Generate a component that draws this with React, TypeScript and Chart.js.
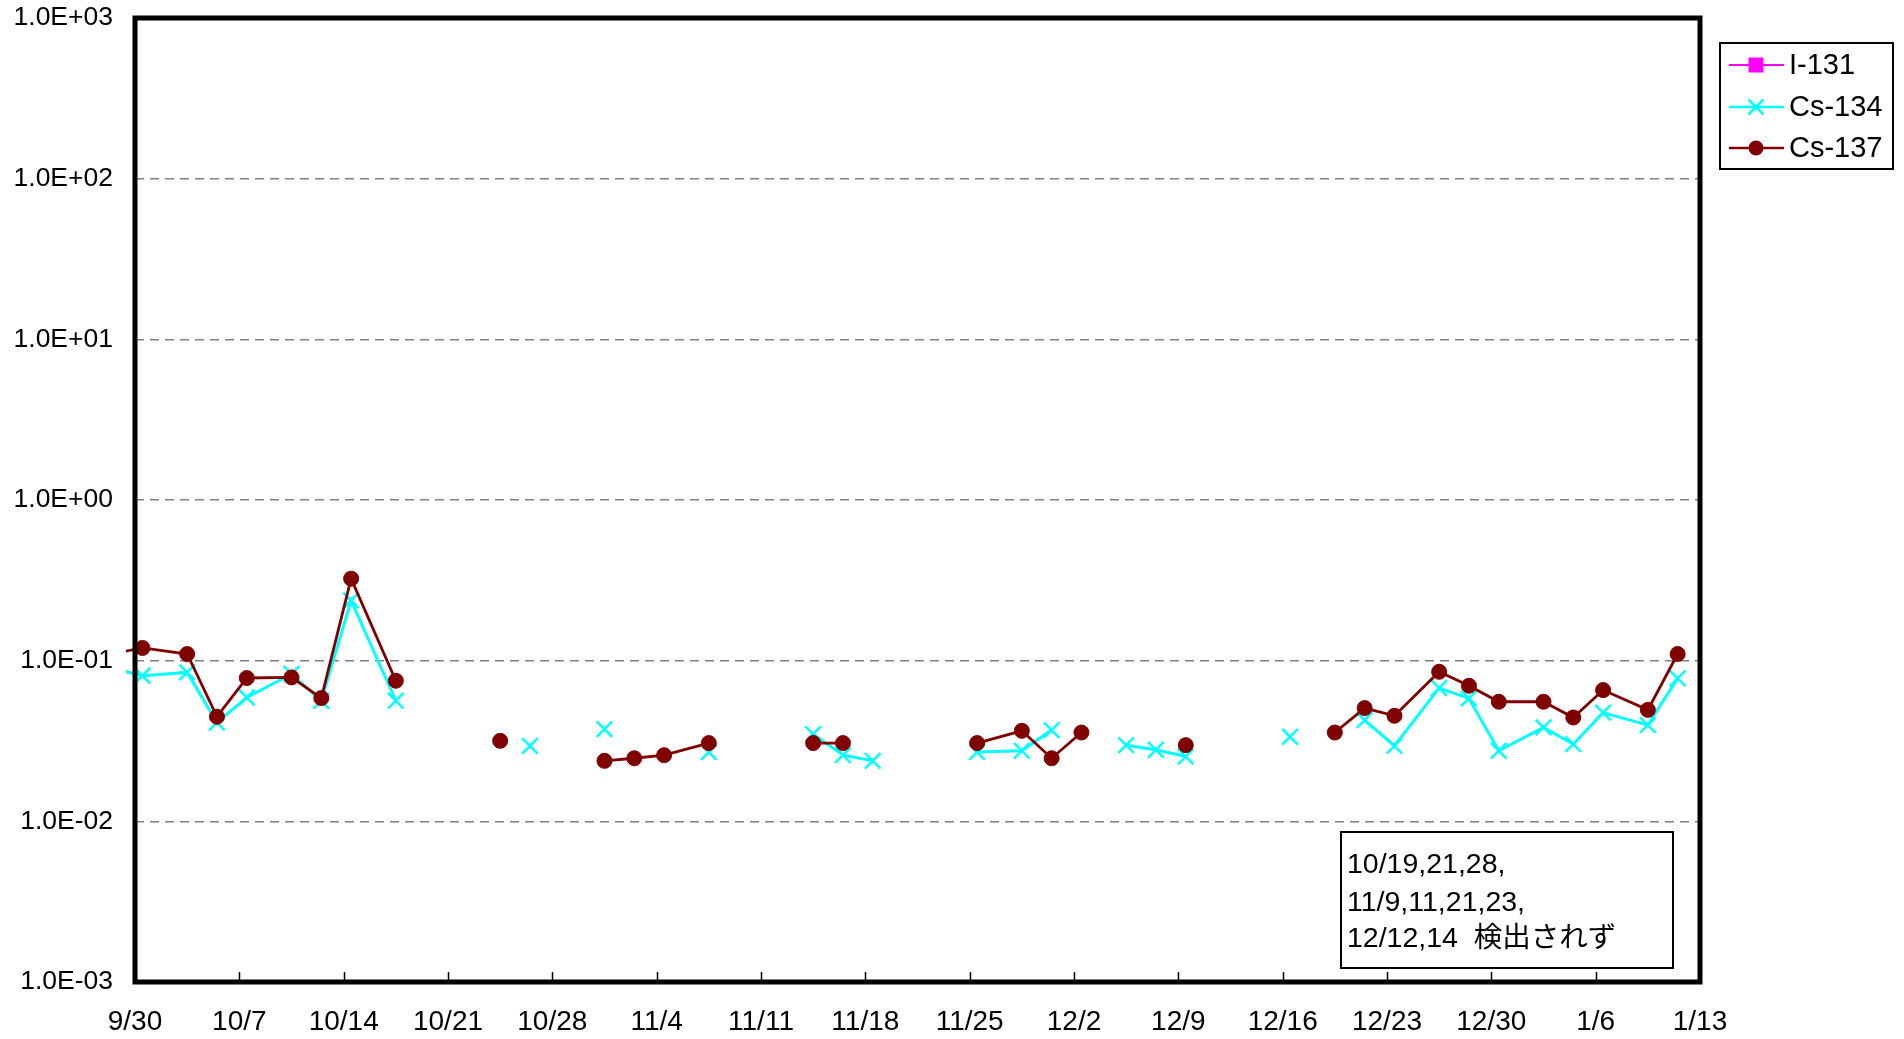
import React, { useEffect, useRef } from 'react';
import { Chart, registerables } from 'chart.js';

Chart.register(...registerables);

// Sampling dates (9/27 is the point just before the axis start; its line enters from the left edge)
const sampleDates = [
  '9/27', '9/30', '10/3', '10/5', '10/7', '10/10', '10/12', '10/14', '10/17', '10/19', '10/21',
  '10/24', '10/26', '10/28', '10/31', '11/2', '11/4', '11/7', '11/9', '11/11', '11/14', '11/16',
  '11/18', '11/21', '11/23', '11/25', '11/28', '11/30', '12/2', '12/5', '12/7', '12/9', '12/12',
  '12/14', '12/16', '12/19', '12/21', '12/23', '12/26', '12/28', '12/30', '1/2', '1/4', '1/6',
  '1/9', '1/11',
];

const cs137Values: (number | null)[] = [
  0.106, 0.120, 0.110, 0.0448, 0.078, 0.0787, 0.0585, 0.324, 0.075, null, null,
  0.0317, null, null, 0.0238, 0.0247, 0.0258, 0.0307, null, null, 0.0307, 0.0307,
  null, null, null, 0.0307, 0.0366, 0.0247, 0.0357, null, null, 0.0298, null,
  null, null, 0.0357, 0.0507, 0.0454, 0.0853, 0.0698, 0.0555, 0.0555, 0.0443, 0.0656,
  0.0494, 0.110,
];

const cs134Values: (number | null)[] = [
  0.0946, 0.0806, 0.0845, 0.0412, 0.059, 0.0826, 0.0563, 0.237, 0.0563, null, null,
  null, 0.0295, null, 0.0375, null, null, 0.0270, null, null, 0.0349, 0.0258,
  0.0238, null, null, 0.0270, 0.0275, 0.0370, null, 0.0298, 0.0279, 0.0253, null,
  null, 0.0336, null, 0.0427, 0.0295, 0.0676, 0.0582, 0.0275, 0.0384, 0.0302, 0.0475,
  0.0397, 0.0776,
];

// I-131: not detected on any date
const i131Values: (number | null)[] = [];

const xTickLabels = [
  '9/30', '10/7', '10/14', '10/21', '10/28', '11/4', '11/11', '11/18', '11/25',
  '12/2', '12/9', '12/16', '12/23', '12/30', '1/6', '1/13',
];
const yTickValues = [1e-3, 1e-2, 1e-1, 1, 10, 100, 1000];
const yTickLabels = ['1.0E-03', '1.0E-02', '1.0E-01', '1.0E+00', '1.0E+01', '1.0E+02', '1.0E+03'];

const seriesNames = ['I-131', 'Cs-134', 'Cs-137'];
const seriesColors = ['#FF00FF', '#00FFFF', '#800000'];

const noteLines = ['10/19,21,28,', '11/9,11,21,23,', '12/12,14  検出されず'];

const FONT = '"Liberation Sans", Arial, "Noto Sans CJK JP", sans-serif';

function dayOffset(s: string): number {
  const [m, d] = s.split('/').map(Number);
  const year = m >= 9 ? 2013 : 2014;
  return (Date.UTC(year, m - 1, d) - Date.UTC(2013, 8, 30)) / 86400000;
}

function toPoints(values: (number | null)[]) {
  return values.map((v, i) => ({ x: dayOffset(sampleDates[i]) + 0.5, y: v }));
}

const decorPlugin = {
  id: 'decor',
  beforeDraw(chart: any) {
    const ctx = chart.ctx;
    ctx.save();
    ctx.fillStyle = '#ffffff';
    ctx.fillRect(0, 0, chart.width, chart.height);
    ctx.restore();
  },
  afterDatasetsDraw(chart: any) {
    const ctx = chart.ctx;
    const a = chart.chartArea;
    const xs = chart.scales.x;
    ctx.save();
    // inward tick marks on the bottom axis
    ctx.strokeStyle = '#000';
    ctx.lineWidth = 1.5;
    xs.ticks.forEach((t: any) => {
      const px = Math.round(xs.getPixelForValue(t.value)) + 0.5;
      ctx.beginPath();
      ctx.moveTo(px, a.bottom);
      ctx.lineTo(px, a.bottom - 10);
      ctx.stroke();
    });
    // plot frame
    ctx.lineWidth = 5;
    ctx.strokeStyle = '#000';
    ctx.strokeRect(a.left, a.top, a.right - a.left, a.bottom - a.top);
    ctx.restore();
  },
  afterDraw(chart: any) {
    const ctx = chart.ctx;
    ctx.save();
    // legend
    const lx = 1720, ly = 43, lw = 173, lh = 126;
    ctx.fillStyle = '#fff';
    ctx.fillRect(lx, ly, lw, lh);
    ctx.strokeStyle = '#000';
    ctx.lineWidth = 2;
    ctx.strokeRect(lx, ly, lw, lh);
    const rows = [65, 107, 148];
    ctx.font = `29px ${FONT}`;
    ctx.textBaseline = 'middle';
    ctx.textAlign = 'left';
    seriesNames.forEach((name, i) => {
      const cy = rows[i];
      const col = seriesColors[i];
      ctx.strokeStyle = col;
      ctx.lineWidth = i === 0 ? 2 : 2.5;
      ctx.beginPath();
      ctx.moveTo(1729, cy);
      ctx.lineTo(1784, cy);
      ctx.stroke();
      if (i === 0) {
        ctx.fillStyle = col;
        ctx.fillRect(1756 - 7.5, cy - 7.5, 15, 15);
      } else if (i === 1) {
        ctx.lineWidth = 2.5;
        ctx.beginPath();
        ctx.moveTo(1756 - 7.5, cy - 7.5);
        ctx.lineTo(1756 + 7.5, cy + 7.5);
        ctx.moveTo(1756 - 7.5, cy + 7.5);
        ctx.lineTo(1756 + 7.5, cy - 7.5);
        ctx.stroke();
      } else {
        ctx.fillStyle = col;
        ctx.beginPath();
        ctx.arc(1756, cy, 7.5, 0, Math.PI * 2);
        ctx.fill();
      }
      ctx.fillStyle = '#000';
      ctx.fillText(name, 1789, cy + 1);
    });
    // note box
    const bx = 1341, by = 832, bw = 332, bh = 136;
    ctx.fillStyle = '#fff';
    ctx.fillRect(bx, by, bw, bh);
    ctx.strokeStyle = '#000';
    ctx.lineWidth = 2;
    ctx.strokeRect(bx, by, bw, bh);
    ctx.fillStyle = '#000';
    ctx.font = `28.5px ${FONT}`;
    ctx.textBaseline = 'alphabetic';
    const baselines = [873, 911, 947];
    noteLines.forEach((t, i) => ctx.fillText(t, 1347, baselines[i]));
    ctx.restore();
  },
};

export default function App() {
  const ref = useRef<HTMLCanvasElement | null>(null);

  useEffect(() => {
    if (!ref.current) return;
    Chart.defaults.font.family = FONT;
    const chart = new Chart(ref.current, {
      type: 'line',
      data: {
        datasets: [
          {
            label: seriesNames[0],
            data: toPoints(i131Values),
            borderColor: seriesColors[0],
            backgroundColor: seriesColors[0],
            pointStyle: 'rect',
            pointRadius: 7,
            order: 2,
          },
          {
            label: seriesNames[1],
            data: toPoints(cs134Values),
            borderColor: seriesColors[1],
            backgroundColor: seriesColors[1],
            borderWidth: 3,
            pointStyle: 'crossRot',
            pointRadius: 11,
            pointBorderWidth: 2.5,
            spanGaps: false,
            order: 1,
            clip: { left: 9, top: 0, right: 0, bottom: 0 },
          },
          {
            label: seriesNames[2],
            data: toPoints(cs137Values),
            borderColor: seriesColors[2],
            backgroundColor: seriesColors[2],
            borderWidth: 2.8,
            pointStyle: 'circle',
            pointRadius: 7.5,
            pointBorderWidth: 1,
            spanGaps: false,
            order: 0,
            clip: { left: 9, top: 0, right: 0, bottom: 0 },
          },
        ],
      },
      options: {
        animation: false,
        responsive: false,
        maintainAspectRatio: false,
        layout: { padding: { left: 0, top: 18, right: 204, bottom: 0 } },
        plugins: {
          legend: { display: false },
          tooltip: { enabled: false },
        },
        elements: { line: { tension: 0 } },
        scales: {
          x: {
            type: 'linear',
            min: 0,
            max: 105,
            afterFit: (s: any) => {
              s.height = 57;
              s.paddingLeft = 0;
              s.paddingRight = 0;
              s.paddingTop = 0;
              s.paddingBottom = 0;
            },
            grid: { display: false, drawTicks: false },
            border: { display: false },
            ticks: {
              stepSize: 7,
              autoSkip: false,
              maxRotation: 0,
              minRotation: 0,
              padding: 23,
              color: '#000',
              font: { size: 28 },
              callback: (_v: any, i: number) => xTickLabels[i] ?? '',
            },
          },
          y: {
            type: 'logarithmic',
            min: 1e-3,
            max: 1e3,
            afterFit: (s: any) => {
              s.width = 135;
              s.paddingTop = 0;
              s.paddingBottom = 0;
              s.paddingLeft = 0;
              s.paddingRight = 0;
            },
            afterBuildTicks: (s: any) => { s.ticks = yTickValues.map((v) => ({ value: v })); },
            grid: {
              drawTicks: false,
              lineWidth: 1.5,
              color: (c: any) =>
                c.index === 0 || c.index === yTickValues.length - 1 ? 'rgba(0,0,0,0)' : '#808080',
            },
            border: { display: false, dash: [9, 6] },
            ticks: {
              padding: 22,
              color: '#000',
              font: { size: 26.5 },
              callback: (_v: any, i: number) => yTickLabels[i] ?? '',
            },
          },
        },
      } as any,
      plugins: [decorPlugin],
    });
    return () => chart.destroy();
  }, []);

  return (
    <div style={{ position: 'fixed', left: 0, top: 0, width: 1904, height: 1039, background: '#fff' }}>
      <canvas ref={ref} width={1904} height={1039} style={{ display: 'block', width: 1904, height: 1039 }} />
    </div>
  );
}
